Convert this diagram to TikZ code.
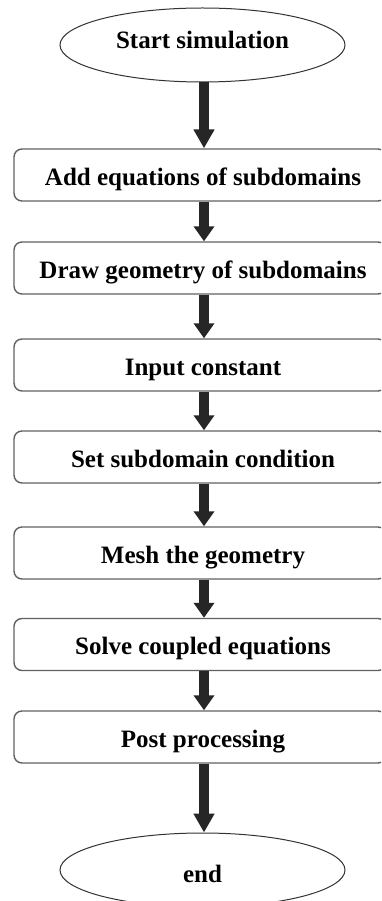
\documentclass[tikz,border=0pt]{standalone}
\usepackage{fontspec}
\setmainfont{Liberation Serif}
\usetikzlibrary{shapes.geometric,arrows.meta}
\newcommand\lbl{\fontsize{25}{30}\selectfont\bfseries}
% #1 = lowering of baseline, #2 = horizontal push (twice the shift), #3 = text
\newcommand\placetxt[3]{\makebox[0pt]{\hspace*{#2}\raisebox{-#1}[0pt][0pt]{#3}}}
\begin{document}
\begin{tikzpicture}[x=1pt,y=-1pt,
  stepbox/.style={draw=black!62, line width=1.4pt, rounded corners=8pt,
    minimum width=372pt, minimum height=52pt, inner sep=0pt, font=\lbl},
  term/.style={ellipse, draw=black!80, line width=1pt,
    minimum width=285pt, minimum height=74pt, inner sep=0pt, font=\lbl},
  flow/.style={line width=10pt, draw=black!85,
    -{Triangle[width=20pt,length=15pt]}},
  longflow/.style={flow, -{Triangle[width=20pt,length=19pt]}}]
\useasboundingbox (0,0) rectangle (381,901);
\clip (0,0) rectangle (381,901);
\fill[white] (0,0) rectangle (381,901);

\coordinate (ax) at (204,0);

\node[term] (start) at (202.5,45) {\placetxt{4pt}{0pt}{Start simulation}};
\node[stepbox] (b1) at (200,175) {\placetxt{11pt}{6pt}{Add equations of subdomains}};
\node[stepbox] (b2) at (200,268) {\placetxt{10pt}{6pt}{Draw geometry of subdomains}};
\node[stepbox] (b3) at (200,365) {\placetxt{10pt}{6pt}{Input constant}};
\node[stepbox] (b4) at (200,457) {\placetxt{10pt}{6pt}{Set subdomain condition}};
\node[stepbox] (b5) at (200,553) {\placetxt{10pt}{6pt}{Mesh the geometry}};
\node[stepbox] (b6) at (200,644.5) {\placetxt{10pt}{6pt}{Solve coupled equations}};
\node[stepbox] (b7) at (200,737) {\placetxt{10pt}{6pt}{Post processing}};
\node[term] (end) at (202.5,870) {\placetxt{12pt}{0pt}{end}};

\draw[longflow] (start.south -| ax) -- (b1.north -| ax);
\draw[flow] (b1.south -| ax) -- (b2.north -| ax);
\draw[flow] (b2.south -| ax) -- (b3.north -| ax);
\draw[flow] (b3.south -| ax) -- (b4.north -| ax);
\draw[flow] (b4.south -| ax) -- (b5.north -| ax);
\draw[flow] (b5.south -| ax) -- (b6.north -| ax);
\draw[flow] (b6.south -| ax) -- (b7.north -| ax);
\draw[longflow] (b7.south -| ax) -- (end.north -| ax);
\end{tikzpicture}
\end{document}
